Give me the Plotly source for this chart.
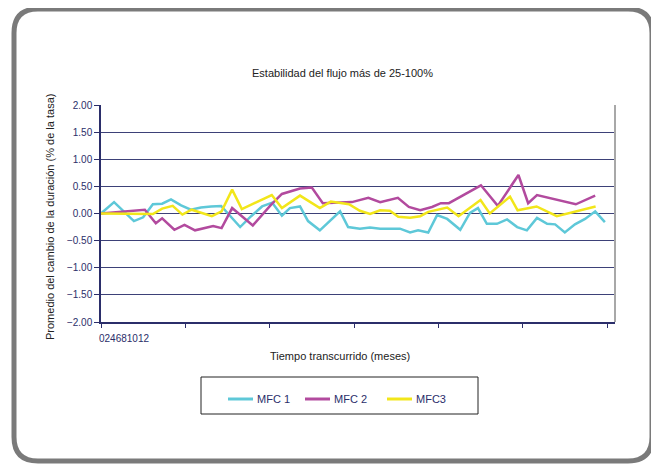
import plotly.graph_objects as go

# ---- data (months, % change) ----
mfc1_x = [0, 0.31, 0.78, 1.00, 1.23, 1.45, 1.66, 1.90, 2.13, 2.37, 2.61, 2.85, 3.30, 3.56, 3.82,
          4.06, 4.29, 4.48, 4.72, 4.91, 5.19, 5.43, 5.67, 5.86, 6.14, 6.38, 6.62, 6.85, 7.09, 7.33,
          7.52, 7.76, 7.97, 8.21, 8.52, 8.75, 8.94, 9.15, 9.39, 9.63, 9.87, 10.10, 10.34, 10.58,
          10.77, 11.00, 11.24, 11.48, 11.72, 11.95]
mfc1_y = [0, 0.21, -0.14, -0.07, 0.17, 0.18, 0.26, 0.15, 0.07, 0.11, 0.13, 0.14, -0.25, -0.05, 0.13,
          0.20, -0.04, 0.10, 0.13, -0.14, -0.31, -0.14, 0.04, -0.25, -0.28, -0.26, -0.28, -0.28, -0.28, -0.35,
          -0.31, -0.35, -0.03, -0.10, -0.30, 0.01, 0.10, -0.19, -0.19, -0.11, -0.25, -0.31, -0.08, -0.19,
          -0.20, -0.35, -0.20, -0.10, 0.04, -0.16]

mfc2_x = [0, 1.04, 1.30, 1.45, 1.74, 1.98, 2.23, 2.66, 2.86, 3.11, 3.60, 4.03, 4.29, 4.72, 5.00,
          5.26, 5.95, 6.34, 6.62, 7.04, 7.30, 7.57, 7.85, 8.06, 8.25, 9.01, 9.41, 9.90, 10.13, 10.34,
          11.26, 11.72]
mfc2_y = [0, 0.07, -0.18, -0.09, -0.30, -0.21, -0.31, -0.23, -0.27, 0.10, -0.22, 0.16, 0.36, 0.46, 0.48,
          0.19, 0.21, 0.29, 0.21, 0.29, 0.12, 0.06, 0.12, 0.19, 0.19, 0.52, 0.14, 0.71, 0.19, 0.34,
          0.17, 0.33]

mfc3_x = [0, 1.16, 1.23, 1.45, 1.70, 1.93, 2.15, 2.63, 2.86, 3.11, 3.34, 4.05, 4.29, 4.72, 5.19,
          5.45, 5.88, 6.14, 6.38, 6.62, 6.85, 7.05, 7.33, 7.57, 7.76, 8.21, 8.48, 9.00, 9.22, 9.70,
          9.88, 10.33, 10.81, 11.73]
mfc3_y = [0, 0, -0.01, 0.09, 0.14, -0.02, 0.07, -0.05, 0.04, 0.44, 0.08, 0.34, 0.10, 0.33, 0.10,
          0.22, 0.17, 0.05, -0.01, 0.06, 0.05, -0.06, -0.08, -0.05, 0.03, 0.11, -0.05, 0.25, 0.00, 0.31,
          0.06, 0.13, -0.05, 0.13]

series_names = ["MFC 1", "MFC 2", "MFC3"]
series_colors = ["#5ec8d8", "#b24a9e", "#f2e61a"]
y_ticks = [-2.0, -1.5, -1.0, -0.5, 0.0, 0.5, 1.0, 1.5, 2.0]
x_ticks = [0, 2, 4, 6, 8, 10, 12]
x_label_text = "024681012"

title_text = "Estabilidad del flujo más de 25-100%"
x_title = "Tiempo transcurrido (meses)"
y_title = "Promedio del cambio de la duración (% de la tasa)"

# ---- layout geometry (screen pixels; page has an 8px body margin) ----
OFF = 8
W, H = 659 - OFF, 466 - OFF
L, R, T, B = 101, 615, 105, 322
NAVY = "#2b2e6a"


def px(x):
    return (x - L) / (R - L)


def py(y):
    return (B - y) / (B - T)


fig = go.Figure()
for xs, ys, name, col in zip([mfc1_x, mfc2_x, mfc3_x], [mfc1_y, mfc2_y, mfc3_y],
                             series_names, series_colors):
    fig.add_trace(go.Scatter(x=xs, y=ys, mode="lines", name=name,
                             line=dict(color=col, width=2.5), showlegend=False))

shapes = []
# outer rounded frame
x0, x1, y0, y1, r = 14, 652, 9, 461, 24
path = (f"M {px(x0 + r)},{py(y0)} L {px(x1 - r)},{py(y0)} Q {px(x1)},{py(y0)} {px(x1)},{py(y0 + r)} "
        f"L {px(x1)},{py(y1 - r)} Q {px(x1)},{py(y1)} {px(x1 - r)},{py(y1)} "
        f"L {px(x0 + r)},{py(y1)} Q {px(x0)},{py(y1)} {px(x0)},{py(y1 - r)} "
        f"L {px(x0)},{py(y0 + r)} Q {px(x0)},{py(y0)} {px(x0 + r)},{py(y0)} Z")
shapes.append(dict(type="path", xref="paper", yref="paper", path=path,
                   line=dict(color="#7a7a7a", width=5), layer="below"))
# right plot border
shapes.append(dict(type="line", xref="paper", yref="paper", x0=1, x1=1, y0=0, y1=1,
                   line=dict(color="#a8a8a8", width=2)))
# legend box
shapes.append(dict(type="rect", xref="paper", yref="paper",
                   x0=px(201), x1=px(478), y0=py(414), y1=py(377),
                   line=dict(color="#222222", width=1)))


def note(text, x, y, size=11, color="#222222", xanchor="center", angle=0):
    return dict(text=text, xref="paper", yref="paper", x=px(x), y=py(y),
                xanchor=xanchor, yanchor="middle", showarrow=False, textangle=angle,
                font=dict(size=size, color=color))


annotations = [
    note(title_text, 342, 73),
    note(x_title, 340, 356),
    note(y_title, 50, 217, angle=-90),
    note(x_label_text, 97, 338, size=10, color=NAVY, xanchor="left"),
]

# legend entries (drawn inside the legend box)
leg_x = [228, 305, 387]
for lx, name, col in zip(leg_x, series_names, series_colors):
    shapes.append(dict(type="line", xref="paper", yref="paper",
                       x0=px(lx), x1=px(lx + 25), y0=py(399), y1=py(399),
                       line=dict(color=col, width=3)))
    annotations.append(note(name, lx + 27, 399, size=11, color=NAVY, xanchor="left"))

fig.update_layout(
    width=W, height=H,
    margin=dict(l=L - OFF, r=W - (R - OFF), t=T - OFF, b=H - (B - OFF)),
    paper_bgcolor="white", plot_bgcolor="white",
    font=dict(family="Liberation Sans, Arial, sans-serif", color=NAVY, size=10),
    showlegend=False,
    shapes=shapes,
    annotations=annotations,
)

fig.update_xaxes(range=[0, 12 * (R - L) / (607 - L)], tickvals=x_ticks, showticklabels=False,
                 showgrid=False, zeroline=False, showline=True, linecolor=NAVY, linewidth=1.5,
                 ticks="outside", ticklen=4, tickcolor=NAVY)
fig.update_yaxes(range=[-2, 2], tickvals=y_ticks, tickformat=".2f",
                 showgrid=True, gridcolor="#3d4178", gridwidth=1, zeroline=True,
                 zerolinecolor="#3d4178", zerolinewidth=1,
                 showline=True, linecolor=NAVY, linewidth=1.5,
                 ticks="outside", ticklen=5, tickcolor=NAVY, tickfont=dict(size=10, color=NAVY))

fig.write_html("out.html")
